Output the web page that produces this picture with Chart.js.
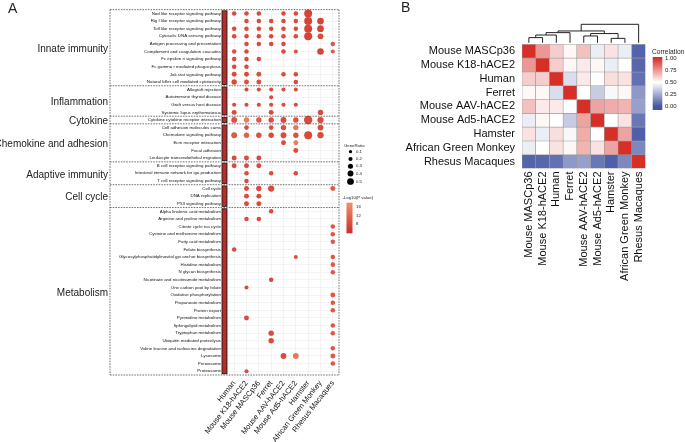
<!DOCTYPE html>
<html><head><meta charset="utf-8">
<script src="https://cdn.jsdelivr.net/npm/chart.js@4.4.1/dist/chart.umd.min.js"></script>
<style>
html,body{margin:0;padding:0;background:#fff;width:685px;height:442px;overflow:hidden;}
#ca{position:absolute;left:0;top:0;}
#cb{position:absolute;left:400px;top:0;}
</style></head><body>
<canvas id="ca" width="400" height="442"></canvas>
<canvas id="cb" width="285" height="442"></canvas>
<script>
// ---------- Panel A data ----------
const species = ['Human','Mouse K18-hACE2','Mouse MASCp36','Ferret','Mouse AAV-hACE2','Mouse Ad5-hACE2','Hamster','African Green Monkey','Rhesus Macaques'];
const pathways = [
 'Nod like receptor signaling pathway','Rig I like receptor signaling pathway','Toll like receptor signaling pathway','Cytosolic DNA sensing pathway','Antigen processing and presentation','Complement and coagulation cascades','Fc epsilon ri signaling pathway','Fc gamma r mediated phagocytosis','Jak stat signaling pathway','Natural killer cell mediated cytotoxicity',
 'Allograft rejection','Autoimmune thyroid disease','Graft versus host disease','Systemic lupus erythematosus',
 'Cytokine cytokine receptor interaction',
 'Cell adhesion molecules cams','Chemokine signaling pathway','Ecm receptor interaction','Focal adhesion','Leukocyte transendothelial migration',
 'B cell receptor signaling pathway','Intestinal immune network for iga production','T cell receptor signaling pathway',
 'Cell cycle','DNA replication','P53 signaling pathway',
 'Alpha linolenic acid metabolism','Arginine and proline metabolism','Citrate cycle tca cycle','Cysteine and methionine metabolism','Fatty acid metabolism','Folate biosynthesis','Glycosylphosphatidylinositol gpi anchor biosynthesis','Histidine metabolism','N glycan biosynthesis','Nicotinate and nicotinamide metabolism','One carbon pool by folate','Oxidative phosphorylation','Propanoate metabolism','Protein export','Pyrimidine metabolism','Sphingolipid metabolism','Tryptophan metabolism','Ubiquitin mediated proteolysis','Valine leucine and isoleucine degradation','Lysosome','Peroxisome','Proteasome'];
const groupNames = ['Innate immunity','Inflammation','Cytokine','Chemokine and adhesion','Adaptive immunity','Cell cycle','Metabolism'];
const groupSizes = [10,4,1,5,3,3,22];
// GeneRatio (0 = not enriched); columns follow `species`
const geneRatio = [
 [.2,.2,.2,0,.2,.2,.6,0,0],[0,.2,.2,.2,.2,.2,.6,.45,0],[.2,.2,.2,.2,.2,.2,.6,.45,0],[.2,.2,.2,.2,.2,.2,.6,.35,0],
 [0,.2,.2,.2,.2,0,0,0,.2],[.2,.2,0,0,.2,.15,0,.45,.15],[.2,.2,.2,0,0,0,0,0,0],[.2,.2,0,0,0,0,0,0,0],
 [.25,.25,.25,0,.2,.2,0,0,0],[.3,.25,.25,0,0,.2,0,0,0],
 [0,.15,.15,.15,.15,.15,0,0,0],[0,0,0,.15,0,0,0,0,0],[.15,.15,.15,.15,.15,.15,0,0,0],[.25,0,0,.25,0,0,0,.3,0],
 [.35,.3,.3,.3,.35,.3,.65,.4,0],
 [0,.2,0,.2,.3,.3,0,.35,0],[.35,.3,.3,.3,.35,.3,.6,.4,0],[0,0,0,0,.25,.25,0,0,0],[0,0,0,0,0,.25,0,0,0],[.25,.25,.25,0,0,0,0,0,0],
 [.25,.25,.25,0,0,0,0,0,0],[0,.2,0,.2,0,.2,0,0,0],[0,.2,0,0,0,0,0,0,0],
 [0,.25,.3,.4,0,0,0,0,.25],[0,.25,.25,0,0,0,0,0,0],[0,.25,.25,0,0,0,0,0,0],
 [0,0,0,.2,0,0,0,0,0],[0,.2,.2,0,0,0,0,0,0],[0,0,0,0,0,0,0,0,.2],[0,0,0,0,0,0,0,0,.2],[0,0,0,0,0,0,0,0,.2],
 [.2,0,0,0,0,0,0,0,0],[0,0,0,0,0,.15,0,0,.2],[0,0,0,0,0,0,0,0,.2],[0,0,0,0,0,0,0,0,.2],[0,0,0,.2,0,0,0,0,0],
 [0,.15,0,0,0,0,0,0,0],[0,0,0,0,0,0,0,0,.25],[0,0,0,0,0,0,0,0,.2],[0,0,0,0,0,0,0,0,.2],[0,.25,0,0,0,0,0,0,0],
 [0,0,0,0,0,0,0,0,.2],[0,0,0,.3,0,0,0,0,.2],[0,0,0,.3,0,0,0,0,0],[0,0,0,0,0,0,0,0,.2],[0,0,0,0,.35,.35,0,0,.25],
 [0,0,0,0,0,0,0,0,.2],[0,.15,0,0,0,0,0,0,0]];
// -Log10(P value)
const logP = [
 [8,8,8,0,8,8,7,0,0],[0,8,8,8,8,8,7,7,0],[8,8,8,8,8,8,7,7,0],[8,8,8,8,8,8,7,8,0],
 [0,8,8,8,8,0,0,0,10],[9,8,0,0,8,9,0,7,10],[8,8,8,0,0,0,0,0,0],[8,8,0,0,0,0,0,0,0],
 [8,8,9,0,8,8,0,0,0],[8,9,9,0,0,8,0,0,0],
 [0,8,8,8,8,8,0,0,0],[0,0,0,8,0,0,0,0,0],[8,8,8,8,8,8,0,0,0],[8,0,0,8,0,0,0,8,0],
 [9,15,10,8,8,9,8,8,0],
 [0,8,0,8,9,14,0,8,0],[10,11,9,8,8,9,8,8,0],[0,0,0,0,8,15,0,0,0],[0,0,0,0,0,8,0,0,0],[8,8,8,0,0,0,0,0,0],
 [8,8,8,0,0,0,0,0,0],[0,8,0,8,0,8,0,0,0],[0,8,0,0,0,0,0,0,0],
 [0,8,8,8,0,0,0,0,10],[0,8,8,0,0,0,0,0,0],[0,8,8,0,0,0,0,0,0],
 [0,0,0,8,0,0,0,0,0],[0,8,8,0,0,0,0,0,0],[0,0,0,0,0,0,0,0,10],[0,0,0,0,0,0,0,0,10],[0,0,0,0,0,0,0,0,10],
 [8,0,0,0,0,0,0,0,0],[0,0,0,0,0,9,0,0,10],[0,0,0,0,0,0,0,0,10],[0,0,0,0,0,0,0,0,10],[0,0,0,8,0,0,0,0,0],
 [0,8,0,0,0,0,0,0,0],[0,0,0,0,0,0,0,0,10],[0,0,0,0,0,0,0,0,10],[0,0,0,0,0,0,0,0,10],[0,8,0,0,0,0,0,0,0],
 [0,0,0,0,0,0,0,0,10],[0,0,0,8,0,0,0,0,10],[0,0,0,8,0,0,0,0,0],[0,0,0,0,0,0,0,0,10],[0,0,0,0,8,14,0,0,10],
 [0,0,0,0,0,0,0,0,10],[0,8,0,0,0,0,0,0,0]];
const ratioLegend = [0.1,0.2,0.3,0.4,0.5];
const pLegendTicks = [16,12,8];

// ---------- Panel B data ----------
const hmNames = ['Mouse MASCp36','Mouse K18-hACE2','Human','Ferret','Mouse AAV-hACE2','Mouse Ad5-hACE2','Hamster','African Green Monkey','Rhesus Macaques'];
const corr = [
 [1.00,0.75,0.62,0.52,0.65,0.45,0.57,0.45,0.04],
 [0.75,1.00,0.62,0.52,0.55,0.52,0.45,0.50,0.05],
 [0.62,0.62,1.00,0.40,0.55,0.50,0.58,0.57,0.08],
 [0.52,0.52,0.40,1.00,0.50,0.35,0.48,0.52,0.20],
 [0.65,0.55,0.55,0.50,1.00,0.72,0.70,0.68,0.22],
 [0.45,0.52,0.50,0.35,0.72,1.00,0.50,0.57,0.10],
 [0.57,0.45,0.58,0.48,0.70,0.50,1.00,0.72,0.03],
 [0.45,0.50,0.57,0.52,0.68,0.57,0.72,1.00,0.15],
 [0.04,0.05,0.08,0.20,0.22,0.10,0.03,0.15,1.00]];
// dendrogram merges: [left, right, height]; ids 0-8 leaves, 9+ merges in order
const dendro = [[0,1,0.28],[9,2,0.42],[10,3,0.55],[4,5,0.37],[6,7,0.24],[12,13,0.50],[11,14,0.64],[15,8,1.0]];
const corrTicks = [1.00,0.75,0.50,0.25,0.00];

const FONT = "'Liberation Sans', Arial, Helvetica, sans-serif";

// ---------- Panel A ----------
const pLo=[205,45,40], pHi=[242,145,108], pMin=3.7, pMax=17.9;
function mix(a,b,t){return `rgb(${Math.round(a[0]+(b[0]-a[0])*t)},${Math.round(a[1]+(b[1]-a[1])*t)},${Math.round(a[2]+(b[2]-a[2])*t)})`;}
function pColor(p){const t=Math.max(0,Math.min(1,(p-pMin)/(pMax-pMin)));return mix(pLo,pHi,t);}
const rad = r => 1.4 + 4.3*r;

const pts=[];
pathways.forEach((pw,r)=>species.forEach((sp,c)=>{ if(geneRatio[r][c]>0) pts.push({x:sp,y:pw,ratio:geneRatio[r][c],p:logP[r][c]}); }));

function dashedLine(ctx,x1,y1,x2,y2){ctx.beginPath();ctx.moveTo(x1,y1);ctx.lineTo(x2,y2);ctx.stroke();}

const panelA = {
 id:'panelA',
 afterDraw(chart){
  const {ctx, chartArea:ca, scales:{y}} = chart;
  const step = y.getPixelForValue(1)-y.getPixelForValue(0);
  ctx.save();
  // group boundaries
  let start=0; const bounds=[ca.top];
  groupSizes.forEach(n=>{start+=n; bounds.push(start<pathways.length ? y.getPixelForValue(start)-step/2 : ca.bottom);});
  const boxL=110;
  // red annotation bar
  for(let g=0; g<groupSizes.length; g++){
    const t=bounds[g]+1.2, b=bounds[g+1]-1.2;
    ctx.fillStyle='#b2302b'; ctx.fillRect(ca.left-6, t, 5, b-t);
    ctx.strokeStyle='#111'; ctx.lineWidth=0.8; ctx.strokeRect(ca.left-6, t, 5, b-t);
  }
  // dashed boxes
  ctx.strokeStyle='#333'; ctx.lineWidth=0.7; ctx.setLineDash([1.6,1.1]);
  bounds.forEach(b=>dashedLine(ctx,boxL,b,ca.right,b));
  dashedLine(ctx,boxL,ca.top,boxL,ca.bottom);
  dashedLine(ctx,ca.right,ca.top,ca.right,ca.bottom);
  ctx.setLineDash([]);
  // group labels
  ctx.fillStyle='#222'; ctx.font=`10px ${FONT}`; ctx.textAlign='right'; ctx.textBaseline='middle';
  start=0;
  groupSizes.forEach((n,g)=>{
    const yc=(y.getPixelForValue(start)+y.getPixelForValue(start+n-1))/2 + 1.5;
    ctx.fillText(groupNames[g], 108, yc); start+=n;
  });
  // panel letter
  ctx.font=`14px ${FONT}`; ctx.textAlign='left'; ctx.textBaseline='top';
  ctx.fillText('A', 8, 2);
  // GeneRatio legend
  const lx=344;
  ctx.font=`4.3px ${FONT}`; ctx.textBaseline='middle'; ctx.fillStyle='#222';
  ctx.fillText('GeneRatio', lx, 145.5);
  const ly=[151.7,159,166.2,173.5,181.5];
  ratioLegend.forEach((r,i)=>{
    ctx.fillStyle='#000'; ctx.beginPath(); ctx.arc(350.5, ly[i], 1.2+3.9*r*0.55+ (r*2.2), 0, Math.PI*2); ctx.fill();
    ctx.fillStyle='#222'; ctx.fillText(r.toFixed(1), 356, ly[i]);
  });
  // P value legend
  ctx.fillText('-Log10(P value)', 342.5, 197.5);
  const gTop=202.7, gBot=233.3;
  const vToY = v => 224 - (v-8)*(224-206.7)/8;
  const grad=ctx.createLinearGradient(0,vToY(pMax),0,vToY(pMin));
  grad.addColorStop(0,pColor(pMax)); grad.addColorStop(1,pColor(pMin));
  ctx.fillStyle=grad; ctx.fillRect(346.5,gTop,6,gBot-gTop);
  ctx.fillStyle='#222';
  pLegendTicks.forEach(v=>{ ctx.fillText(String(v), 356, vToY(v)); });
  ctx.restore();
 }
};

new Chart(document.getElementById('ca'), {
 type:'scatter',
 data:{datasets:[{data:pts,
   pointRadius: c=>rad(c.raw.ratio), pointHoverRadius: c=>rad(c.raw.ratio),
   pointBackgroundColor: c=>pColor(c.raw.p), pointBorderWidth:0, pointBorderColor:'rgba(0,0,0,0)'}]},
 options:{
  responsive:false, animation:false, devicePixelRatio:1,
  plugins:{legend:{display:false}, tooltip:{enabled:false}},
  layout:{padding:{left:110,right:61,top:2,bottom:0}},
  scales:{
   x:{type:'category', labels:species, offset:true,
      grid:{color:'#ececec', lineWidth:0.6, drawTicks:false}, border:{display:false},
      ticks:{autoSkip:false, minRotation:52, maxRotation:52, padding:4, color:'#111', font:{family:FONT, size:7.6}},
      afterFit:s=>{s.height=67;}},
   y:{type:'category', labels:pathways, offset:true,
      grid:{color:'#ececec', lineWidth:0.6, drawTicks:false}, border:{display:false},
      ticks:{autoSkip:false, padding:7, color:'#111', font:{family:FONT, size:4.4}},
      afterFit:s=>{s.width=118;}}
  }
 },
 plugins:[panelA]
});

// ---------- Panel B ----------
const cLo=[69,85,163], cMid=[255,255,255], cHi=[214,47,39];
function corrColor(v){ return v<0.5 ? mix(cLo,cMid,Math.max(0,v)/0.5) : mix(cMid,cHi,Math.min(1,(v-0.5)/0.5)); }

const panelB = {
 id:'panelB',
 afterDraw(chart){
  const {ctx, chartArea:ca, scales:{x}} = chart;
  ctx.save();
  // dendrogram
  const base = ca.top - 1.5, hScale = 18.5;
  const nodes = hmNames.map((_,i)=>({x:x.getPixelForValue(i), h:0}));
  ctx.strokeStyle='#222'; ctx.lineWidth=1;
  dendro.forEach(([a,b,h])=>{
    const A=nodes[a], B=nodes[b], yy=base-h*hScale;
    ctx.beginPath();
    ctx.moveTo(A.x, base-A.h*hScale); ctx.lineTo(A.x, yy); ctx.lineTo(B.x, yy); ctx.lineTo(B.x, base-B.h*hScale);
    ctx.stroke();
    nodes.push({x:(A.x+B.x)/2, h});
  });
  // color bar
  const vToY = v => 106.5 - v*(106.5-58.3);
  const bx=252.7, bw=9.6, bt=57, bb=110;
  const grad=ctx.createLinearGradient(0,vToY(1),0,vToY(0));
  grad.addColorStop(0,corrColor(1)); grad.addColorStop(0.5,corrColor(0.5)); grad.addColorStop(1,corrColor(0));
  ctx.fillStyle=grad; ctx.fillRect(bx,bt,bw,bb-bt);
  ctx.fillStyle='#222'; ctx.font=`6.6px ${FONT}`; ctx.textAlign='left'; ctx.textBaseline='middle';
  ctx.fillText('Correlation', 252, 51.7);
  ctx.font=`6px ${FONT}`;
  corrTicks.forEach(v=>ctx.fillText(v.toFixed(2), 265, vToY(v)));
  // panel letter
  ctx.font=`14px ${FONT}`; ctx.textBaseline='top';
  ctx.fillText('B', 1, 1);
  ctx.restore();
 }
};

new Chart(document.getElementById('cb'), {
 type:'bar',
 data:{labels:hmNames,
   datasets: hmNames.map((rn,i)=>({label:rn, data: corr[i].map(()=>1), stack:'hm',
     backgroundColor: corr[i].map(corrColor), borderColor:'#9a9a9a', borderWidth:0.6, borderSkipped:false,
     barPercentage:1, categoryPercentage:1}))},
 options:{
  responsive:false, animation:false, devicePixelRatio:1,
  plugins:{legend:{display:false}, tooltip:{enabled:false}},
  layout:{padding:{left:0,right:39.5,top:44.3,bottom:0}},
  scales:{
   x:{stacked:true, grid:{display:false, drawTicks:false}, border:{display:false},
      ticks:{autoSkip:false, minRotation:90, maxRotation:90, padding:3, color:'#111', font:{family:FONT, size:11}},
      afterFit:s=>{s.height=273.5;}},
   y:{stacked:true, reverse:true, min:0, max:9, grid:{display:false, drawTicks:false}, border:{display:false},
      afterBuildTicks:s=>{s.ticks = hmNames.map((_,i)=>({value:i+0.5}));},
      ticks:{autoSkip:false, padding:7, color:'#111', font:{family:FONT, size:11}, callback:(v,i)=>hmNames[i]},
      afterFit:s=>{s.width=122;}}
  }
 },
 plugins:[panelB]
});
</script>
</body></html>
